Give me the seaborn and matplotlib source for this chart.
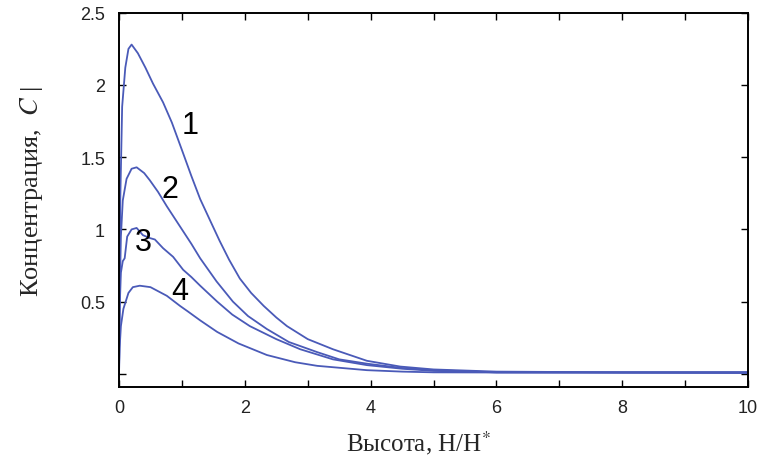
import pandas as pd
import numpy as np
import matplotlib
matplotlib.use('Agg')
import matplotlib.pyplot as plt
import seaborn as sns
from matplotlib.ticker import MultipleLocator, FuncFormatter

# ---- data ----
x1 = [0, 0.02, 0.05, 0.1, 0.15, 0.2, 0.3, 0.42, 0.54, 0.7, 0.84, 1.0, 1.15, 1.29, 1.45, 1.6, 1.75, 1.92, 2.1, 2.3, 2.5, 2.67, 3.0, 3.4, 3.94, 4.47, 5.0, 6.0, 8.0, 10.0]
y1 = [0, 1.2, 1.85, 2.12, 2.25, 2.28, 2.22, 2.12, 2.01, 1.88, 1.74, 1.55, 1.37, 1.21, 1.06, 0.92, 0.79, 0.66, 0.56, 0.47, 0.39, 0.33, 0.24, 0.17, 0.09, 0.05, 0.03, 0.015, 0.01, 0.01]

x2 = [0, 0.01, 0.03, 0.06, 0.12, 0.2, 0.28, 0.4, 0.49, 0.62, 0.76, 0.88, 1.0, 1.15, 1.29, 1.55, 1.81, 2.05, 2.35, 2.7, 3.15, 3.5, 3.94, 4.5, 5.0, 6.0, 10.0]
y2 = [0, 0.5, 0.95, 1.2, 1.35, 1.42, 1.43, 1.39, 1.34, 1.26, 1.16, 1.08, 1.0, 0.9, 0.8, 0.64, 0.5, 0.4, 0.31, 0.22, 0.15, 0.1, 0.07, 0.04, 0.025, 0.01, 0.01]

x3 = [0, 0.01, 0.03, 0.06, 0.09, 0.13, 0.2, 0.28, 0.38, 0.49, 0.57, 0.7, 0.86, 1.02, 1.15, 1.29, 1.56, 1.8, 2.08, 2.5, 2.88, 3.4, 3.94, 4.5, 5.0, 6.0, 10.0]
y3 = [0, 0.45, 0.7, 0.78, 0.8, 0.95, 1.0, 1.01, 0.96, 0.94, 0.93, 0.87, 0.81, 0.72, 0.67, 0.61, 0.5, 0.41, 0.33, 0.24, 0.17, 0.1, 0.06, 0.035, 0.02, 0.01, 0.01]

x4 = [0, 0.01, 0.03, 0.07, 0.15, 0.22, 0.33, 0.5, 0.76, 0.97, 1.1, 1.29, 1.56, 1.9, 2.35, 2.8, 3.15, 3.94, 4.5, 5.0, 10.0]
y4 = [0, 0.18, 0.33, 0.45, 0.56, 0.6, 0.61, 0.6, 0.54, 0.47, 0.43, 0.37, 0.29, 0.21, 0.13, 0.08, 0.055, 0.025, 0.015, 0.01, 0.005]

curve_names = ['1', '2', '3', '4']
label_x = [1.13, 0.81, 0.38, 0.97]
label_y = [1.72, 1.28, 0.91, 0.57]

# ---- style ----
sns.set_style('ticks')
plt.rcParams['font.family'] = ['Liberation Sans', 'DejaVu Sans']
plt.rcParams['mathtext.fontset'] = 'stix'

line_color = '#4a5ab8'

fig = plt.figure(figsize=(7.58, 4.6), dpi=100)
ax = fig.add_axes([0.157, 0.157, 0.830, 0.813])

for xs, ys in zip([x1, x2, x3, x4], [y1, y2, y3, y4]):
    df = pd.DataFrame({'x': xs, 'y': ys})
    sns.lineplot(data=df, x='x', y='y', ax=ax, color=line_color,
                 linewidth=1.3, estimator=None, sort=False)

for name, lx, ly in zip(curve_names, label_x, label_y):
    ax.text(lx, ly, name, fontsize=22, color='black', ha='center', va='center',
            family='Liberation Sans')

ax.set_xlim(0, 10)
ax.set_ylim(-0.09, 2.5)

ax.xaxis.set_major_locator(MultipleLocator(2))
ax.xaxis.set_minor_locator(MultipleLocator(1))
ax.yaxis.set_major_locator(MultipleLocator(0.5))
ax.yaxis.set_major_formatter(FuncFormatter(lambda v, p: '' if abs(v) < 1e-9 else f'{v:g}'))

ax.tick_params(which='both', direction='in', top=True, right=True,
               length=5, width=1, color='black')
ax.tick_params(axis='y', labelsize=13, pad=10, labelcolor='#222222')
ax.tick_params(axis='x', labelsize=13, pad=9, labelcolor='#222222')

for s in ax.spines.values():
    s.set_visible(True)
    s.set_color('black')
    s.set_linewidth(1.4)

ax.set_xlabel('Высота, Н/Н$^{*}$', fontsize=18, family='Liberation Serif')
ax.set_ylabel('Концентрация,  $C$ |', fontsize=19, family='Liberation Serif')
ax.xaxis.set_label_coords(0.475, -0.11)
ax.yaxis.set_label_coords(-0.118, 0.525)

fig.savefig('out.png', dpi=100)
